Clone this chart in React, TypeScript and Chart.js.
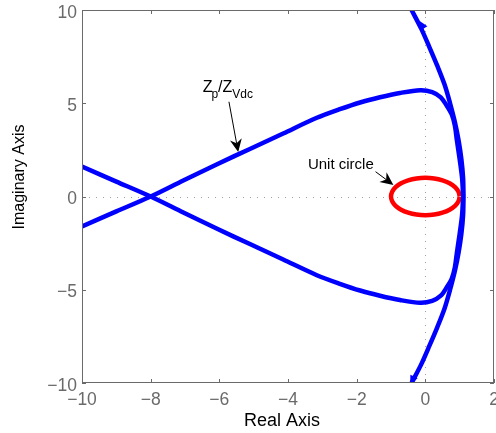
import React, { useEffect, useRef } from 'react';
import { Chart, registerables } from 'chart.js';

Chart.register(...registerables);

// ---- axis ticks ----
const xTicks = [-10, -8, -6, -4, -2, 0, 2];
const yTicks = [-10, -5, 0, 5, 10];

// ---- outer Nyquist arc (top to bottom) ----
const arcRe = [-0.4, -0.12, 0.12, 0.35, 0.56, 0.72, 0.86, 0.97, 1.05, 1.1, 1.11, 1.1, 1.05, 0.97, 0.86, 0.72, 0.56, 0.35, 0.12, -0.12, -0.4];
const arcIm = [10, 9, 8, 7, 6, 5, 4, 3, 2, 1, 0, -1, -2, -3, -4, -5, -6, -7, -8, -9, -10];

// ---- inner branch rising from lower-left to the upper lobe ----
const upRe = [-10, -9, -8, -7.05, -6.08, -5.11, -4.14, -3.16, -2.49, -1.9, -1.32, -0.74, -0.15, 0.2, 0.45, 0.62, 0.77, 0.86, 0.92, 1.0, 1.07, 1.1];
const upIm = [-1.6, -0.8, 0, 0.86, 1.72, 2.55, 3.38, 4.22, 4.68, 5.04, 5.32, 5.55, 5.7, 5.6, 5.32, 4.88, 4.4, 3.8, 3.0, 2.0, 1.0, 0];

// ---- inner branch falling from upper-left to the lower lobe ----
const loRe = [-10, -9, -8, -7.05, -6.08, -5.11, -4.14, -3.16, -2.49, -1.9, -1.32, -0.74, -0.15, 0.2, 0.45, 0.62, 0.77, 0.86, 0.92, 1.0, 1.07, 1.1];
const loIm = [1.6, 0.8, 0, -0.86, -1.72, -2.55, -3.38, -4.22, -4.68, -5.04, -5.32, -5.55, -5.7, -5.6, -5.32, -4.88, -4.4, -3.8, -3.0, -2.0, -1.0, 0];

// ---- unit circle ----
const circleRe = [1, 0.966, 0.866, 0.707, 0.5, 0.259, 0, -0.259, -0.5, -0.707, -0.866, -0.966, -1, -0.966, -0.866, -0.707, -0.5, -0.259, 0, 0.259, 0.5, 0.707, 0.866, 0.966, 1];
const circleIm = [0, 0.259, 0.5, 0.707, 0.866, 0.966, 1, 0.966, 0.866, 0.707, 0.5, 0.259, 0, -0.259, -0.5, -0.707, -0.866, -0.966, -1, -0.966, -0.866, -0.707, -0.5, -0.259, 0];

// ---- direction arrows on the outer arc ----
const curveArrowRe = [-0.1, -0.38];
const curveArrowIm = [9.2, -9.84];
const curveArrowToRe = [-0.3, -0.5];
const curveArrowToIm = [9.8, -10.3];

// ---- annotation texts ----
const annotZ = { re: -6.48, im: 5.62, tailRe: -5.72, tailIm: 5.08, tipRe: -5.45, tipIm: 2.38 };
const annotUnit = { text: 'Unit circle', re: -3.42, im: 1.46, tailRe: -1.45, tailIm: 1.33, tipRe: -0.93, tipIm: 0.62 };

const FONT = "'Liberation Sans', Arial, Helvetica, sans-serif";
const AXIS_GRAY = '#6a6a6a';

const toPoints = (re: number[], im: number[]) => re.map((v, i) => ({ x: v, y: im[i] }));
const fmt = (v: number) => (v < 0 ? '\u2212' + Math.abs(v) : String(v));

function drawArrow(ctx: CanvasRenderingContext2D, x1: number, y1: number, x2: number, y2: number) {
  const dx = x2 - x1, dy = y2 - y1;
  const len = Math.hypot(dx, dy);
  const ux = dx / len, uy = dy / len;
  const nx = -uy, ny = ux;
  const L = 13, W = 6, notch = 4;
  ctx.save();
  ctx.strokeStyle = '#000';
  ctx.fillStyle = '#000';
  ctx.lineWidth = 1;
  ctx.beginPath();
  ctx.moveTo(x1, y1);
  ctx.lineTo(x2 - (L - notch) * ux, y2 - (L - notch) * uy);
  ctx.stroke();
  ctx.beginPath();
  ctx.moveTo(x2, y2);
  ctx.lineTo(x2 - L * ux + W * nx, y2 - L * uy + W * ny);
  ctx.lineTo(x2 - (L - notch) * ux, y2 - (L - notch) * uy);
  ctx.lineTo(x2 - L * ux - W * nx, y2 - L * uy - W * ny);
  ctx.closePath();
  ctx.fill();
  ctx.restore();
}

const framePlugin = {
  id: 'matlabFrame',
  beforeDatasetsDraw(chart: any) {
    const { ctx, chartArea: a, scales } = chart;
    const x = scales.x, y = scales.y;
    ctx.save();
    ctx.strokeStyle = '#a0a0a0';
    ctx.lineWidth = 1;
    ctx.setLineDash([1, 6]);
    const x0 = Math.round(x.getPixelForValue(0)) + 0.5;
    const y0 = Math.round(y.getPixelForValue(0)) + 0.5;
    ctx.beginPath();
    ctx.moveTo(a.left, y0);
    ctx.lineTo(a.right, y0);
    ctx.moveTo(x0, a.top);
    ctx.lineTo(x0, a.bottom);
    ctx.stroke();
    ctx.restore();
  },
  afterDatasetsDraw(chart: any) {
    const { ctx, chartArea: a, scales } = chart;
    const x = scales.x, y = scales.y;

    // direction arrows on the arc
    ctx.save();
    ctx.beginPath();
    ctx.rect(a.left, a.top, a.right - a.left, a.bottom - a.top);
    ctx.clip();
    ctx.fillStyle = '#0000ff';
    curveArrowRe.forEach((re, i) => {
      const px = x.getPixelForValue(re), py = y.getPixelForValue(curveArrowIm[i]);
      const tx = x.getPixelForValue(curveArrowToRe[i]), ty = y.getPixelForValue(curveArrowToIm[i]);
      const ang = Math.atan2(ty - py, tx - px);
      ctx.save();
      ctx.translate(px, py);
      ctx.rotate(ang);
      ctx.beginPath();
      ctx.moveTo(5, 0);
      ctx.lineTo(-4, 4);
      ctx.lineTo(-4, -4);
      ctx.closePath();
      ctx.fill();
      ctx.restore();
    });
    ctx.restore();

    // box
    ctx.save();
    ctx.strokeStyle = AXIS_GRAY;
    ctx.lineWidth = 1;
    ctx.strokeRect(a.left + 0.5, a.top + 0.5, a.right - a.left - 1, a.bottom - a.top - 1);
    // inward ticks
    const tl = 4;
    ctx.beginPath();
    xTicks.forEach((v) => {
      const px = Math.round(x.getPixelForValue(v)) + 0.5;
      ctx.moveTo(px, a.bottom);
      ctx.lineTo(px, a.bottom - tl);
      ctx.moveTo(px, a.top);
      ctx.lineTo(px, a.top + tl);
    });
    yTicks.forEach((v) => {
      const py = Math.round(y.getPixelForValue(v)) + 0.5;
      ctx.moveTo(a.left, py);
      ctx.lineTo(a.left + tl, py);
      ctx.moveTo(a.right, py);
      ctx.lineTo(a.right - tl, py);
    });
    ctx.stroke();

    // tick labels
    ctx.fillStyle = AXIS_GRAY;
    ctx.font = `17.5px ${FONT}`;
    ctx.textBaseline = 'alphabetic';
    ctx.textAlign = 'center';
    xTicks.forEach((v) => {
      ctx.fillText(fmt(v), x.getPixelForValue(v), a.bottom + 22);
    });
    ctx.textAlign = 'right';
    yTicks.forEach((v) => {
      ctx.fillText(fmt(v), a.left - 5, y.getPixelForValue(v) + 7.5);
    });

    // axis titles
    ctx.fillStyle = '#000';
    ctx.font = `18px ${FONT}`;
    ctx.textAlign = 'center';
    ctx.fillText('Real Axis', (a.left + a.right) / 2 - 6, a.bottom + 42.5);
    ctx.save();
    ctx.font = `16px ${FONT}`;
    ctx.translate(24, (a.top + a.bottom) / 2 - 19.5);
    ctx.rotate(-Math.PI / 2);
    ctx.fillText('Imaginary Axis', 0, 0);
    ctx.restore();

    // annotation: Z_p / Z_Vdc
    ctx.textAlign = 'left';
    let cx = x.getPixelForValue(annotZ.re);
    const by = y.getPixelForValue(annotZ.im);
    const big = `16px ${FONT}`, small = `12px ${FONT}`;
    const parts: [string, string, number][] = [
      ['Z', big, 0],
      ['p', small, 6.8],
      ['/', big, 0],
      ['Z', big, 0],
      ['Vdc', small, 6.8],
    ];
    parts.forEach(([t, f, off], i) => {
      ctx.font = f;
      ctx.fillText(t, cx, by + off);
      cx += ctx.measureText(t).width - (i === 0 ? 1.2 : 0);
    });
    drawArrow(ctx, x.getPixelForValue(annotZ.tailRe), y.getPixelForValue(annotZ.tailIm),
      x.getPixelForValue(annotZ.tipRe), y.getPixelForValue(annotZ.tipIm));

    // annotation: Unit circle
    ctx.font = `15px ${FONT}`;
    ctx.fillStyle = '#000';
    ctx.fillText(annotUnit.text, x.getPixelForValue(annotUnit.re), y.getPixelForValue(annotUnit.im));
    drawArrow(ctx, x.getPixelForValue(annotUnit.tailRe), y.getPixelForValue(annotUnit.tailIm),
      x.getPixelForValue(annotUnit.tipRe), y.getPixelForValue(annotUnit.tipIm));
    ctx.restore();
  },
};

export default function App() {
  const canvasRef = useRef<HTMLCanvasElement | null>(null);

  useEffect(() => {
    document.body.style.margin = '0';
    const canvas = canvasRef.current;
    if (!canvas) return;
    const lineBase = {
      showLine: true,
      pointRadius: 0,
      pointHoverRadius: 0,
      borderWidth: 4.5,
      tension: 0.3,
      fill: false,
      borderJoinStyle: 'round' as const,
    };
    const chart = new Chart(canvas, {
      type: 'scatter',
      data: {
        datasets: [
          { ...lineBase, label: 'arc', data: toPoints(arcRe, arcIm), borderColor: '#0000ff', backgroundColor: '#0000ff' },
          { ...lineBase, label: 'upper', data: toPoints(upRe, upIm), borderColor: '#0000ff', backgroundColor: '#0000ff' },
          { ...lineBase, label: 'lower', data: toPoints(loRe, loIm), borderColor: '#0000ff', backgroundColor: '#0000ff' },
          { ...lineBase, label: 'Unit circle', data: toPoints(circleRe, circleIm), borderColor: '#ff0000', backgroundColor: '#ff0000', tension: 0.4 },
        ],
      },
      options: {
        responsive: false,
        maintainAspectRatio: false,
        animation: false,
        devicePixelRatio: 1,
        events: [],
        layout: { padding: { left: 82, right: 2, top: 10, bottom: 50 } },
        scales: {
          x: { type: 'linear', min: -10, max: 2, display: false },
          y: { type: 'linear', min: -10, max: 10, display: false },
        },
        plugins: { legend: { display: false }, tooltip: { enabled: false }, title: { display: false } },
      },
      plugins: [framePlugin],
    });
    return () => chart.destroy();
  }, []);

  return (
    <div style={{ position: 'absolute', left: 0, top: 0, width: 496, height: 433, background: '#fff' }}>
      <canvas ref={canvasRef} width={496} height={433} style={{ width: 496, height: 433, display: 'block' }} />
    </div>
  );
}
